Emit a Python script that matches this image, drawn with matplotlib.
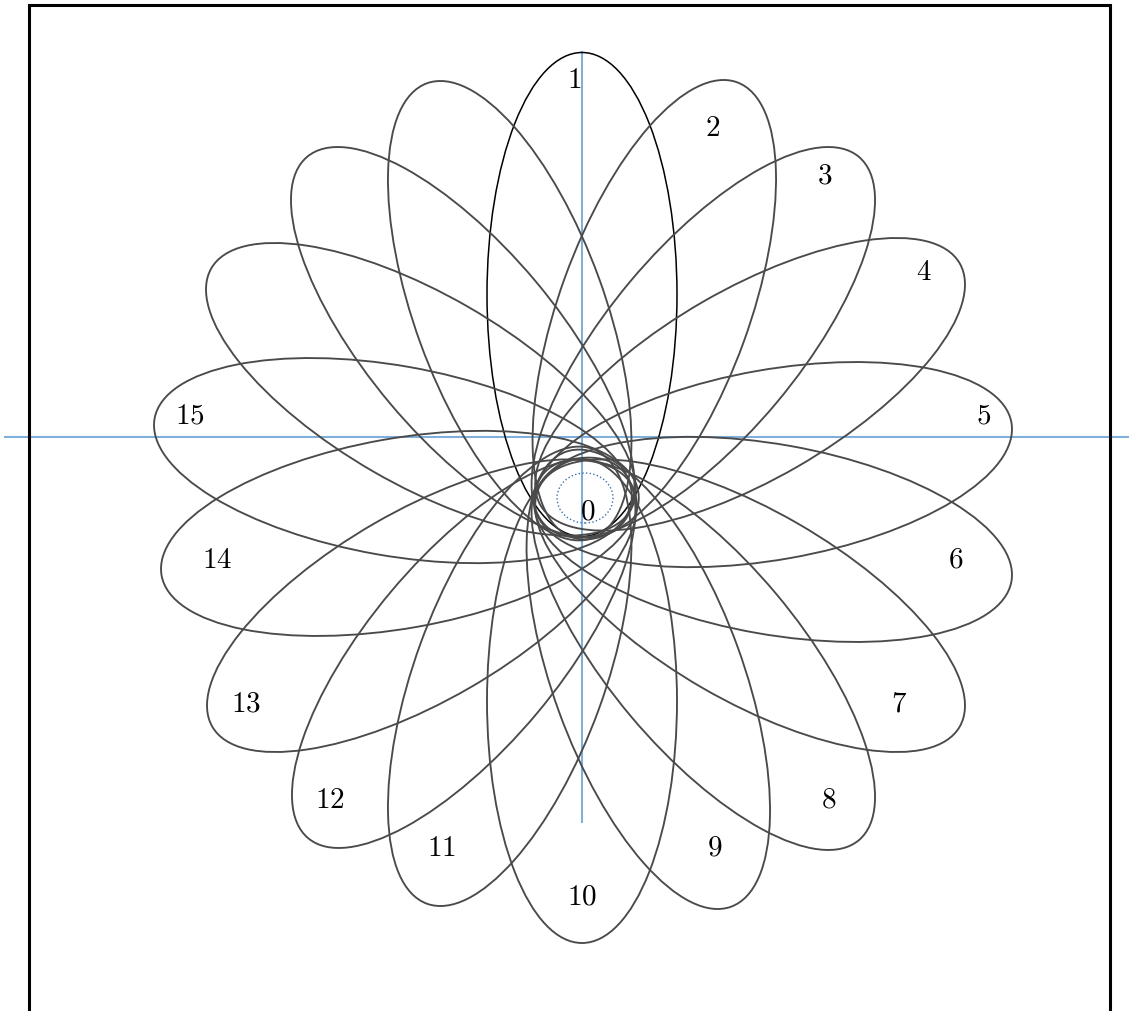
import numpy as np
import matplotlib
matplotlib.use("Agg")
import matplotlib.pyplot as plt
from matplotlib.patches import Ellipse, Rectangle

plt.rcParams['mathtext.fontset'] = 'cm'

# ---- data (units: pixels relative to the axis origin, y up) ----
ellipse_angles = [90, 70, 50, 30, 10, -10, -30, -50, -70, -90,
                  -110, -130, -150, -170, 170, 150, 130, 110]
ellipse_cx = [0, 72.3, 121.3, 168.1, 191.1, 191.1, 168.1, 121.3, 66.3, 0,
              -72.3, -118.3, -160.1, -182.1, -189.1, -161.1, -119.3, -72.3]
ellipse_cy = [142.5, 127.3, 94.8, 52.7, -27.6, -102.4, -168.7, -217.8, -242.3, -264,
              -239.3, -215.8, -168.7, -96.4, -23.6, 47.7, 94.8, 126.3]
semi_major = 242.0
semi_minor = 95.0

label_text = ['1', '2', '3', '4', '5', '6', '7', '8', '9', '10',
              '11', '12', '13', '14', '15', '0']
label_x = [-8, 131, 243, 342, 401.5, 373.5, 317, 247, 133, 0.5,
           -141, -252, -336, -364.5, -392.5, 6]
label_y = [357, 309, 261, 165, 21, -123, -267, -363, -411, -459.5,
           -411, -363, -267, -123, 21, -74]

axis_v = (-385, 385)
axis_h = (-577, 560)
inner_circle = (3, -61, 56, 50)
frame = (-553.5, -600, 1081, 1032)

fig = plt.figure(figsize=(11.29, 10.11), dpi=100)
ax = fig.add_axes([0, 0, 1, 1])
ax.set_xlim(-582, 547)
ax.set_ylim(-574, 437)
ax.axis('off')

blue = '#7fb0dc'
ax.plot([0, 0], axis_v, color=blue, lw=1.5, zorder=1)
ax.plot(axis_h, [0, 0], color=blue, lw=1.5, zorder=1)

for i, (th, cx, cy) in enumerate(zip(ellipse_angles, ellipse_cx, ellipse_cy)):
    if i == 0:
        col, lw = 'black', 1.1
    else:
        col, lw = '#4a4a4a', 1.35
    ax.add_patch(Ellipse((cx, cy), 2 * semi_major, 2 * semi_minor, angle=th,
                         fill=False, edgecolor=col, lw=lw, zorder=2))

ax.add_patch(Ellipse(inner_circle[:2], inner_circle[2], inner_circle[3],
                     fill=False, edgecolor='#3a6fb0', lw=1.0, ls=':', zorder=3))

for t, x, y in zip(label_text, label_x, label_y):
    ax.text(x, y, '$' + t + '$', fontsize=21, ha='center', va='center', zorder=4)

ax.add_patch(Rectangle(frame[:2], frame[2], frame[3], fill=False,
                       edgecolor='black', lw=2.2, zorder=5, clip_on=False))

fig.savefig('out.png', dpi=100)
